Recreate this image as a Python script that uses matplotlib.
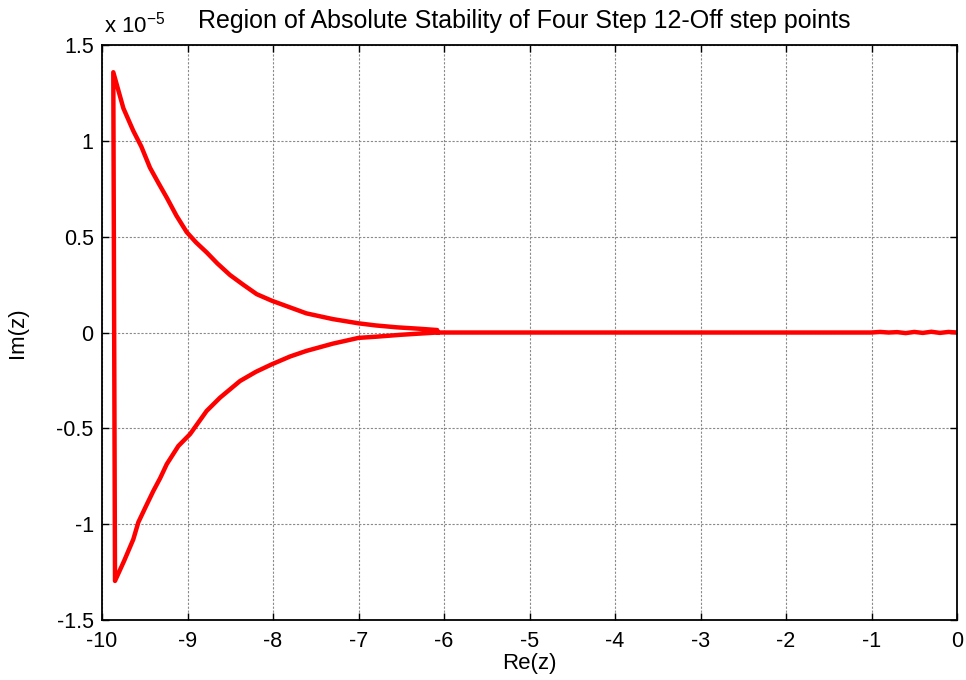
import matplotlib
matplotlib.use("Agg")
import matplotlib.pyplot as plt

plt.rcParams['font.family'] = ['Liberation Sans', 'DejaVu Sans']
plt.rcParams['mathtext.default'] = 'regular'

# Values of Im(z) in units of 1e-5
re_zero = [0.0, -0.1, -0.2, -0.3, -0.4, -0.5, -0.6, -0.7, -0.8, -0.9, -1.0, -2.0, -3.0, -4.0, -5.0, -6.0, -6.08]
im_zero = [0.0, 0.003, -0.002, 0.004, -0.002, 0.003, -0.003, 0.002, 0.0, 0.003, 0.0, 0.0, 0.0, 0.0, 0.0, 0.0, 0.0]

re_upper = [-6.08, -6.3, -6.55, -6.8, -7.0, -7.3, -7.61, -8.015, -8.19, -8.35, -8.503, -8.65, -8.776, -8.9, -9.01, -9.13, -9.243, -9.34, -9.439, -9.54, -9.634, -9.75, -9.868]
im_upper = [0.013, 0.02, 0.027, 0.037, 0.048, 0.07, 0.10, 0.166, 0.20, 0.25, 0.30, 0.36, 0.418, 0.47, 0.524, 0.61, 0.704, 0.78, 0.86, 0.97, 1.052, 1.17, 1.358]

re_lower = [-9.848, -9.74, -9.634, -9.575, -9.49, -9.40, -9.32, -9.243, -9.107, -8.97, -8.776, -8.62, -8.386, -8.2, -8.015, -7.8, -7.61, -7.3, -7.0, -6.8, -6.51, -6.3, -6.08]
im_lower = [-1.296, -1.19, -1.079, -0.99, -0.91, -0.827, -0.76, -0.687, -0.592, -0.53, -0.409, -0.34, -0.253, -0.205, -0.166, -0.125, -0.096, -0.058, -0.028, -0.022, -0.012, -0.006, 0.0]

xticks = [-10, -9, -8, -7, -6, -5, -4, -3, -2, -1, 0]
xticklabels = ['-10', '-9', '-8', '-7', '-6', '-5', '-4', '-3', '-2', '-1', '0']
yticks = [-1.5, -1.0, -0.5, 0.0, 0.5, 1.0, 1.5]
yticklabels = ['-1.5', '-1', '-0.5', '0', '0.5', '1', '1.5']

re_path = re_zero + re_upper + re_lower
im_path = im_zero + im_upper + im_lower

fig = plt.figure(figsize=(9.66, 6.8), dpi=100)
ax = fig.add_axes([0.1056, 0.0882, 0.8851, 0.8456])
ax.plot(re_path, im_path, color='red', lw=3.2, solid_joinstyle='round')
ax.set_xlim(-10, 0)
ax.set_ylim(-1.5, 1.5)
ax.set_xticks(xticks)
ax.set_xticklabels(xticklabels)
ax.set_yticks(yticks)
ax.set_yticklabels(yticklabels)
ax.tick_params(direction='in', top=True, right=True, labelsize=15.5, length=5, width=1, pad=6)
ax.tick_params(axis='x', pad=8)
ax.grid(True, color='#8a8a8a', linestyle=(0, (2, 1.5)), linewidth=0.8)
for s in ax.spines.values():
    s.set_linewidth(1.3)
ax.set_xlabel('Re(z)', fontsize=16, va='top')
ax.xaxis.set_label_coords(0.5, -0.058)
ax.set_ylabel('Im(z)', fontsize=16)
ax.yaxis.set_label_coords(-0.087, 0.5)
fig.text(0.5424, 0.9588, 'Region of Absolute Stability of Four Step 12-Off step points',
         fontsize=18, ha='center', va='baseline')
fig.text(0.108, 0.9515, r'x 10$^{-5}$', fontsize=16, ha='left', va='baseline')
fig.savefig('out.png', dpi=100)
